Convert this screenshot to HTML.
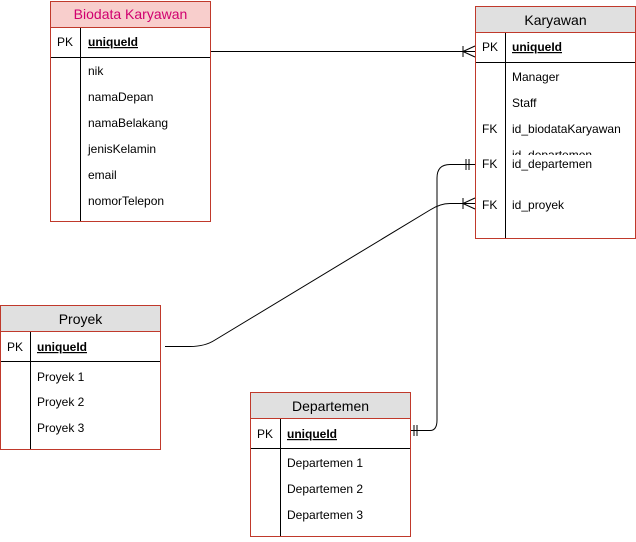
<!DOCTYPE html>
<html><head><meta charset="utf-8"><style>
html,body{margin:0;padding:0;background:#fff;}
svg text{font-family:"Liberation Sans",Arial,sans-serif;font-size:12px;fill:#000;}
.t{font-size:14px;}
.b{font-weight:bold;text-decoration:underline;}
</style></head><body>
<svg width="636" height="537" xmlns="http://www.w3.org/2000/svg">
<defs><clipPath id="kc"><rect x="476" y="140" width="159" height="15"/></clipPath></defs>
<g fill="none" stroke="#000" stroke-width="1">
<path d="M211 51.5 H475"/>
<path d="M463 51.5 L475 46 M463 51.5 L475 57 M463 46 V57"/>
<path d="M165 346.5 H190 Q205 346.5 215 340 L430 210 Q440 203.5 450 203.5 H475"/>
<path d="M463 203.5 L475 198 M463 203.5 L475 209 M463 198 V209"/>
<path d="M410 430.5 H430 Q437 430.5 437 420 V178 Q437 164.5 450 164.5 H475"/>
<path d="M466 159 V170 M469 159 V170"/>
<path d="M414 425 V436 M417 425 V436"/>
</g>
<!-- Biodata -->
<rect x="50.5" y="1.5" width="160" height="26" fill="#f8cecc" stroke="#c0392b"/>
<rect x="50.5" y="27.5" width="160" height="194" fill="#fff" stroke="#c0392b"/>
<path d="M51 57.5 H210 M80.5 28 V221" stroke="#000"/>
<text x="130.5" y="19" text-anchor="middle" class="t" style="fill:#d0006f">Biodata Karyawan</text>
<text x="57" y="46">PK</text><text x="88" y="46" class="b">uniqueId</text>
<text x="88" y="75">nik</text><text x="88" y="101">namaDepan</text><text x="88" y="127">namaBelakang</text>
<text x="88" y="153">jenisKelamin</text><text x="88" y="179">email</text><text x="88" y="205">nomorTelepon</text>
<!-- Karyawan -->
<rect x="475.5" y="6.5" width="160" height="26" fill="#e0e0e0" stroke="#c0392b"/>
<rect x="475.5" y="32.5" width="160" height="206" fill="#fff" stroke="#c0392b"/>
<path d="M476 62.5 H635 M505.5 33 V238" stroke="#000"/>
<text x="555.5" y="25" text-anchor="middle" class="t">Karyawan</text>
<text x="482" y="51">PK</text><text x="512" y="51" class="b">uniqueId</text>
<text x="512" y="81">Manager</text><text x="512" y="107">Staff</text>
<text x="482" y="133">FK</text><text x="512" y="133">id_biodataKaryawan</text>
<text x="512" y="159" clip-path="url(#kc)">id_departemen</text>
<text x="482" y="168">FK</text><text x="512" y="168">id_departemen</text>
<text x="482" y="209">FK</text><text x="512" y="209">id_proyek</text>
<!-- Proyek -->
<rect x="0.5" y="305.5" width="160" height="26" fill="#e0e0e0" stroke="#c0392b"/>
<rect x="0.5" y="331.5" width="160" height="118" fill="#fff" stroke="#c0392b"/>
<path d="M1 361.5 H160 M30.5 332 V449" stroke="#000"/>
<text x="80.5" y="324" text-anchor="middle" class="t">Proyek</text>
<text x="7" y="351">PK</text><text x="37" y="351" class="b">uniqueId</text>
<text x="37" y="381">Proyek 1</text><text x="37" y="406">Proyek 2</text><text x="37" y="432">Proyek 3</text>
<!-- Departemen -->
<rect x="250.5" y="392.5" width="160" height="26" fill="#e0e0e0" stroke="#c0392b"/>
<rect x="250.5" y="418.5" width="160" height="118" fill="#fff" stroke="#c0392b"/>
<path d="M251 448.5 H410 M280.5 419 V536" stroke="#000"/>
<text x="330.5" y="411" text-anchor="middle" class="t">Departemen</text>
<text x="257" y="438">PK</text><text x="287" y="438" class="b">uniqueId</text>
<text x="287" y="467">Departemen 1</text><text x="287" y="493">Departemen 2</text><text x="287" y="519">Departemen 3</text>
</svg>
</body></html>
